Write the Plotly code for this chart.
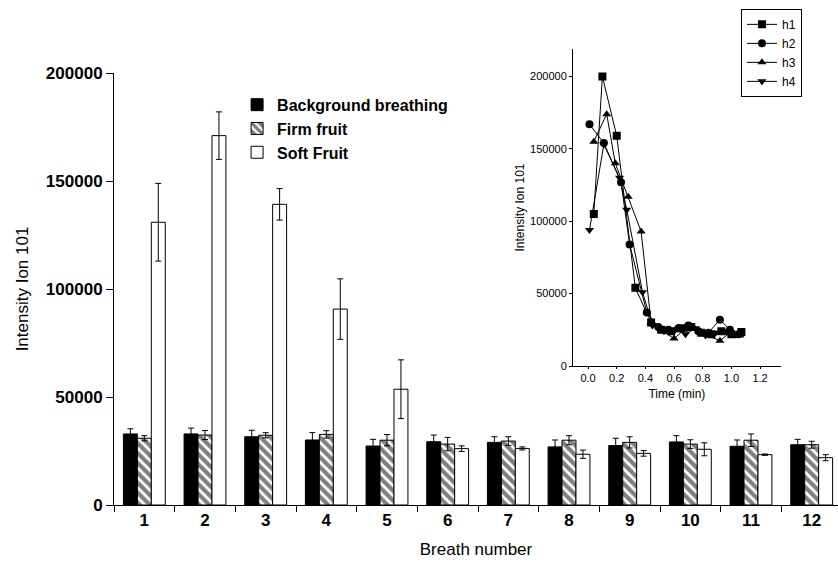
import plotly.graph_objects as go

# ---------------- main bar chart data ----------------
breath = ["1", "2", "3", "4", "5", "6", "7", "8", "9", "10", "11", "12"]

background = [32900, 32900, 31600, 30100, 27300, 29300, 29000, 26900, 27500, 29200, 27200, 27900]
background_err = [2400, 2700, 3000, 3400, 3100, 3100, 2600, 3200, 3400, 2900, 2900, 2500]

firm = [30900, 32400, 32300, 32700, 30000, 28200, 29600, 30000, 29000, 28200, 30000, 27900]
firm_err = [1200, 2100, 1200, 1700, 2600, 3100, 2000, 2100, 2600, 2000, 2900, 1600]

soft = [130900, 171000, 139200, 90700, 53600, 26100, 26200, 23500, 23900, 25800, 23300, 21900]
soft_err = [18000, 11000, 7300, 14000, 13600, 1300, 700, 1900, 1300, 3000, 300, 1400]

y_ticks = [0, 50000, 100000, 150000, 200000]

# ---------------- inset data ----------------
h1_t = [0.04, 0.10, 0.20, 0.33, 0.44, 0.51, 0.58, 0.65, 0.72, 0.79, 0.86, 0.93, 1.00, 1.07]
h1_y = [105000, 200000, 159000, 54000, 30000, 25000, 24000, 26000, 27000, 23000, 22000, 24000, 22000, 23500]

h2_t = [0.01, 0.11, 0.23, 0.29, 0.41, 0.49, 0.56, 0.63, 0.70, 0.77, 0.84, 0.92, 0.99, 1.05]
h2_y = [167000, 154000, 127000, 84000, 37000, 27000, 25000, 26000, 28000, 24000, 23000, 32000, 25000, 22000]

h3_t = [0.04, 0.13, 0.19, 0.28, 0.37, 0.44, 0.52, 0.60, 0.67, 0.74, 0.81, 0.92, 0.99, 1.06]
h3_y = [155000, 174000, 140000, 117000, 93000, 30000, 24000, 19000, 25000, 26000, 22000, 17500, 23000, 21000]

h4_t = [0.01, 0.11, 0.22, 0.27, 0.38, 0.45, 0.53, 0.61, 0.68, 0.75, 0.82, 0.89, 0.96, 1.03]
h4_y = [94000, 153000, 130000, 108000, 51000, 28000, 24000, 25000, 22000, 26000, 21000, 23000, 24000, 22000]

inset_x_ticks = [0.0, 0.2, 0.4, 0.6, 0.8, 1.0, 1.2]

FONT = "Liberation Sans, Arial, sans-serif"

fig = go.Figure()

err_style = dict(type="data", color="black", thickness=1, width=3, visible=True)

fig.add_trace(go.Bar(
    x=breath, y=background, name="Background breathing", legendgroup="a",
    marker=dict(color="black", line=dict(color="black", width=1)),
    error_y=dict(array=background_err, **err_style),
))
fig.add_trace(go.Bar(
    x=breath, y=firm, name="Firm fruit", legendgroup="b",
    marker=dict(color="white", line=dict(color="black", width=1),
                pattern=dict(shape="\\", fgcolor="black", bgcolor="white", size=7, solidity=0.6)),
    error_y=dict(array=firm_err, **err_style),
))
fig.add_trace(go.Bar(
    x=breath, y=soft, name="Soft Fruit", legendgroup="c",
    marker=dict(color="white", line=dict(color="black", width=1)),
    error_y=dict(array=soft_err, **err_style),
))

for name, t, v, sym in [("h1", h1_t, h1_y, "square"), ("h2", h2_t, h2_y, "circle"),
                        ("h3", h3_t, h3_y, "triangle-up"), ("h4", h4_t, h4_y, "triangle-down")]:
    fig.add_trace(go.Scatter(
        x=t, y=v, name=name, mode="lines+markers", xaxis="x2", yaxis="y2", legend="legend2",
        line=dict(color="black", width=1),
        marker=dict(symbol=sym, size=8, color="black"),
    ))

fig.update_layout(
    width=838, height=568, autosize=False,
    margin=dict(l=114, r=0, t=49, b=63),
    paper_bgcolor="white", plot_bgcolor="white",
    font=dict(family=FONT, color="black"),
    barmode="group", bargap=0.31, bargroupgap=0,
    xaxis=dict(
        type="category", range=[-0.5, 11.434], tickson="boundaries",
        showline=True, linecolor="black", linewidth=1,
        ticks="outside", ticklen=6, tickcolor="black",
        tickfont=dict(size=17, family=FONT, weight="bold"),
        showgrid=False, zeroline=False,
        title=dict(text="Breath number", font=dict(size=17, family=FONT), standoff=13),
    ),
    yaxis=dict(
        domain=[0, 432 / 456], range=[0, 200000],
        tickvals=y_ticks, ticktext=[str(v) for v in y_ticks],
        showline=True, linecolor="black", linewidth=1,
        ticks="outside", ticklen=7, tickcolor="black",
        tickfont=dict(size=17, family=FONT, weight="bold"),
        showgrid=False, zeroline=False,
        title=dict(text="Intensity Ion 101", font=dict(size=17, family=FONT), standoff=12),
    ),
    xaxis2=dict(
        domain=[0.634, 0.921], range=[-0.105, 1.345], anchor="y2",
        tickvals=inset_x_ticks, ticktext=["%.1f" % v for v in inset_x_ticks],
        showline=True, linecolor="black", linewidth=1,
        ticks="outside", ticklen=2, tickcolor="black",
        tickfont=dict(size=11, family=FONT),
        showgrid=False, zeroline=False,
        title=dict(text="Time (min)", font=dict(size=12, family=FONT), standoff=6),
    ),
    yaxis2=dict(
        domain=[(505 - 366) / 456, 1.0], range=[0, 219000], anchor="x2",
        tickvals=y_ticks, ticktext=[str(v) for v in y_ticks],
        showline=True, linecolor="black", linewidth=1,
        ticks="outside", ticklen=3, tickcolor="black",
        tickfont=dict(size=11, family=FONT),
        showgrid=False, zeroline=False,
        title=dict(text="Intensity Ion 101", font=dict(size=12, family=FONT), standoff=2),
    ),
    legend=dict(
        x=0.17, y=0.915, xanchor="left", yanchor="top",
        bgcolor="rgba(0,0,0,0)", borderwidth=0,
        font=dict(size=16, family=FONT, weight="bold"),
        tracegroupgap=8.5, traceorder="normal",
    ),
    legend2=dict(
        x=0.866, y=1.088, xanchor="left", yanchor="top",
        bgcolor="white", bordercolor="black", borderwidth=1,
        font=dict(size=12, family=FONT),
        tracegroupgap=0, itemwidth=30,
    ),
)

fig.write_html("out.html")
